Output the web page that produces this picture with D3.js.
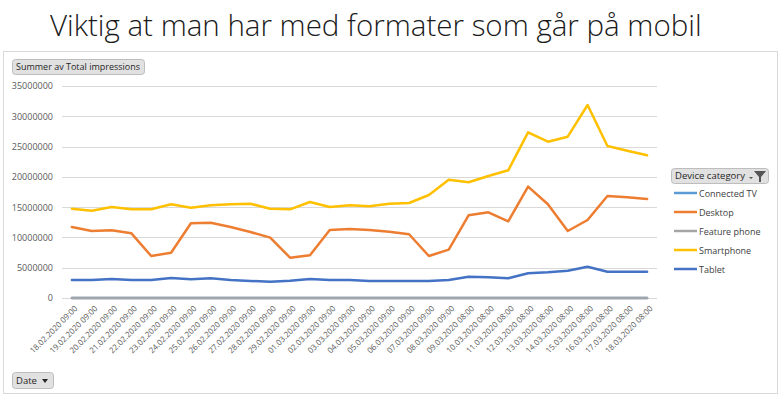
<!DOCTYPE html>
<html>
<head>
<meta charset="utf-8">
<script src="https://cdn.jsdelivr.net/npm/d3@7"></script>
<style>
  body { margin: 0; background: #fff; }
  svg { display: block; }
</style>
</head>
<body>
<svg id="chart" width="783" height="397"></svg>
<script>
// Data
const dates = [
  '18.02.2020 09:00', '19.02.2020 09:00', '20.02.2020 09:00', '21.02.2020 09:00',
  '22.02.2020 09:00', '23.02.2020 09:00', '24.02.2020 09:00', '25.02.2020 09:00',
  '26.02.2020 09:00', '27.02.2020 09:00', '28.02.2020 09:00', '29.02.2020 09:00',
  '01.03.2020 09:00', '02.03.2020 09:00', '03.03.2020 09:00', '04.03.2020 09:00',
  '05.03.2020 09:00', '06.03.2020 09:00', '07.03.2020 09:00', '08.03.2020 09:00',
  '09.03.2020 08:00', '10.03.2020 08:00', '11.03.2020 08:00', '12.03.2020 08:00',
  '13.03.2020 08:00', '14.03.2020 08:00', '15.03.2020 08:00', '16.03.2020 08:00',
  '17.03.2020 08:00', '18.03.2020 08:00'
];

const connectedTV = [
  12000, 11000, 12000, 11000, 10000, 12000, 13000, 12000, 11000, 12000,
  11000, 10000, 12000, 13000, 12000, 11000, 12000, 13000, 12000, 14000,
  15000, 16000, 15000, 18000, 17000, 16000, 19000, 17000, 16000, 16000
];

const desktop = [
  11720000, 11060000, 11170000, 10680000, 6930000, 7480000, 12330000, 12430000, 11720000, 10900000,
  9960000, 6650000, 7050000, 11230000, 11390000, 11230000, 10950000, 10520000, 6930000, 7980000,
  13650000, 14150000, 12660000, 18380000, 15470000, 11060000, 12880000, 16840000, 16620000, 16340000
];

const featurePhone = [
  4000, 4000, 4000, 4000, 3000, 3000, 4000, 4000, 4000, 4000,
  3000, 3000, 4000, 4000, 4000, 4000, 4000, 4000, 3000, 3000,
  4000, 4000, 4000, 5000, 5000, 4000, 4000, 5000, 5000, 5000
];

const smartphone = [
  14740000, 14410000, 15020000, 14640000, 14640000, 15470000, 14910000, 15300000, 15470000, 15570000,
  14740000, 14640000, 15850000, 15020000, 15300000, 15140000, 15570000, 15680000, 17000000, 19530000,
  19100000, 20140000, 21080000, 27350000, 25810000, 26630000, 31860000, 25090000, 24320000, 23560000
];

const tablet = [
  2970000, 2970000, 3140000, 2970000, 2970000, 3300000, 3080000, 3250000, 2970000, 2810000,
  2700000, 2860000, 3140000, 2970000, 2970000, 2810000, 2810000, 2810000, 2810000, 2970000,
  3520000, 3410000, 3250000, 4080000, 4240000, 4510000, 5170000, 4340000, 4340000, 4340000
];

const seriesNames = ['Connected TV', 'Desktop', 'Feature phone', 'Smartphone', 'Tablet'];
const seriesValues = [connectedTV, desktop, featurePhone, smartphone, tablet];
const seriesColors = ['#5b9bd5', '#ed7d31', '#a5a5a5', '#ffc000', '#4472c4'];

const yTicks = [0, 5000000, 10000000, 15000000, 20000000, 25000000, 30000000, 35000000];

const font = '"Open Sans", "Liberation Sans", sans-serif';

const svg = d3.select('#chart');

// Title
svg.append('text')
  .attr('x', 50)
  .attr('y', 36)
  .style('font-family', '"Open Sans", sans-serif')
  .style('font-weight', 300)
  .style('font-size', '29.5px')
  .style('fill', '#1a1a1a')
  .text('Viktig at man har med formater som går på mobil');

// Chart frame
svg.append('rect')
  .attr('x', 3.5).attr('y', 51.5)
  .attr('width', 774).attr('height', 342)
  .attr('fill', '#fff')
  .attr('stroke', '#d9d9d9');

// Scales
const x = d3.scaleBand().domain(dates).range([62, 657]);
const y = d3.scaleLinear().domain([0, 35000000]).range([298, 86]);

// Gridlines
svg.append('g')
  .selectAll('line')
  .data(yTicks)
  .join('line')
  .attr('x1', 62).attr('x2', 657)
  .attr('y1', d => Math.round(y(d)) + 0.5)
  .attr('y2', d => Math.round(y(d)) + 0.5)
  .attr('stroke', '#d9d9d9')
  .attr('stroke-width', 1);

// Y axis labels
const yAxis = svg.append('g')
  .attr('transform', 'translate(62,0)')
  .call(d3.axisLeft(y).tickValues(yTicks).tickSize(0).tickPadding(9).tickFormat(d3.format('d')));
yAxis.select('.domain').remove();
yAxis.selectAll('text')
  .style('font-family', font)
  .style('font-size', '9px')
  .style('fill', '#595959');

// X axis labels
const xAxis = svg.append('g')
  .attr('transform', 'translate(0,298)')
  .call(d3.axisBottom(x).tickSize(0));
xAxis.select('.domain').remove();
xAxis.selectAll('text')
  .style('font-family', font)
  .style('font-size', '8px')
  .style('fill', '#595959')
  .attr('text-anchor', 'end')
  .attr('dx', 0)
  .attr('dy', 0)
  .attr('transform', 'translate(4,9) rotate(-45)');

// Lines
const line = d3.line()
  .x((d, i) => x(dates[i]) + x.bandwidth() / 2)
  .y(d => y(d));

svg.append('g')
  .selectAll('path')
  .data(seriesValues)
  .join('path')
  .attr('d', d => line(d))
  .attr('fill', 'none')
  .attr('stroke', (d, i) => seriesColors[i])
  .attr('stroke-width', 2.5)
  .attr('stroke-linejoin', 'round')
  .attr('stroke-linecap', 'round');

// Field buttons
function fieldButton(bx, by, w, h, label, textLen) {
  const g = svg.append('g');
  g.append('rect')
    .attr('x', bx + 0.5).attr('y', by + 0.5)
    .attr('width', w).attr('height', h)
    .attr('rx', 3)
    .attr('fill', '#e1e1e1')
    .attr('stroke', '#bdbdbd');
  const t = g.append('text')
    .attr('x', bx + 4).attr('y', by + h / 2 + 3.5)
    .style('font-family', font)
    .style('font-size', '9.5px')
    .style('fill', '#262626')
    .text(label);
  if (textLen) t.attr('textLength', textLen).attr('lengthAdjust', 'spacingAndGlyphs');
  return g;
}

fieldButton(12, 59, 132, 15, 'Summer av Total impressions', 124);

const dateBtn = fieldButton(12, 372, 41, 16, 'Date');
dateBtn.append('path')
  .attr('d', 'M42,379 L48,379 L45,383 Z')
  .attr('fill', '#262626');

const devBtn = fieldButton(671, 168, 97, 15, 'Device category', 70);
devBtn.append('path')
  .attr('d', 'M754,171 L766,171 L761,177 L761,182 L759,182 L759,177 Z')
  .attr('fill', '#555');
devBtn.append('path')
  .attr('d', 'M749,177 L753,177 L751,179 Z')
  .attr('fill', '#555');

// Legend
const legend = svg.append('g')
  .selectAll('g')
  .data(seriesNames)
  .join('g')
  .attr('transform', (d, i) => `translate(674,${193 + i * 19})`);

legend.append('line')
  .attr('x1', 0).attr('x2', 23)
  .attr('y1', 0).attr('y2', 0)
  .attr('stroke', (d, i) => seriesColors[i])
  .attr('stroke-width', 2.5);

legend.append('text')
  .attr('x', 25)
  .attr('y', 3.5)
  .style('font-family', font)
  .style('font-size', '9px')
  .style('fill', '#404040')
  .text(d => d);
</script>
</body>
</html>
